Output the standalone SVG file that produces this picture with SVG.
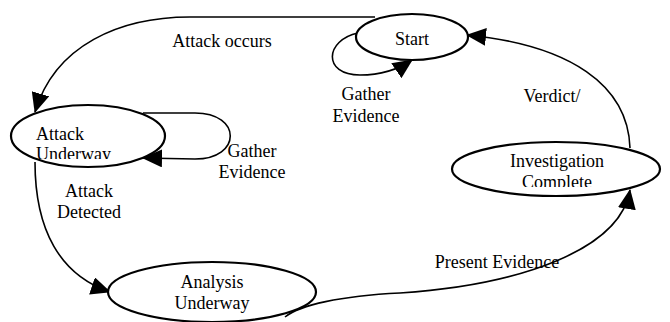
<svg xmlns="http://www.w3.org/2000/svg" width="670" height="322" viewBox="0 0 670 322">
<style>
.n{fill:#fff;stroke:#000;stroke-width:2.2}
.e{fill:none;stroke:#000;stroke-width:1.6;marker-end:url(#arr)}
text{font-family:"Liberation Serif","Times New Roman",serif;font-size:18px;fill:#000}
.c{text-anchor:middle}
</style>
<defs>
<marker id="arr" markerUnits="userSpaceOnUse" markerWidth="20" markerHeight="18" refX="19" refY="9" orient="auto" viewBox="0 0 20 18">
<path d="M0,0 L20,9 L0,18 z" fill="#000"/>
</marker>
<clipPath id="clipAU"><rect x="0" y="100" width="200" height="59"/></clipPath>
<clipPath id="clipIC"><rect x="440" y="140" width="230" height="47"/></clipPath>
</defs>
<g id="connectors">
<path class="e" d="M375,17 L190,17 C120,17 55,45 35,112"/>
<path class="e" d="M358,33 C325,40 322,75 360,75 C380,75 396,71 412,60"/>
<path class="e" d="M143,113 L195,113 C242,113 242,159 195,159 L143,158"/>
<path class="e" d="M35,162 C35,230 60,275 110,292"/>
<path class="e" d="M285,317 C300,305 340,296 400,293 C520,285 620,250 630,190"/>
<path class="e" d="M630,148 C628,85 570,45 467,35"/>
</g>
<g id="labels">
<text class="c" x="222" y="47">Attack occurs</text>
<text class="c" x="366" y="100">Gather</text>
<text class="c" x="366" y="122">Evidence</text>
<text class="c" x="252" y="157">Gather</text>
<text class="c" x="252" y="178">Evidence</text>
<text class="c" x="89" y="197">Attack</text>
<text class="c" x="89" y="218">Detected</text>
<text class="c" x="497" y="268">Present Evidence</text>
<text class="c" x="552" y="102">Verdict/</text>
</g>
<g id="start">
<ellipse class="n" cx="412" cy="37" rx="56" ry="23"/>
<text class="c" x="412" y="45">Start</text>
</g>
<g id="attack-underway">
<ellipse class="n" cx="88" cy="136" rx="77" ry="31"/>
<g clip-path="url(#clipAU)">
<text x="36" y="140">Attack</text>
<text x="36" y="160">Underway</text>
</g>
</g>
<g id="analysis-underway">
<ellipse class="n" cx="212" cy="292" rx="104" ry="30"/>
<text class="c" x="212" y="288">Analysis</text>
<text class="c" x="212" y="309">Underway</text>
</g>
<g id="investigation-complete">
<ellipse class="n" cx="556" cy="169" rx="104" ry="27"/>
<g clip-path="url(#clipIC)">
<text class="c" x="557" y="167">Investigation</text>
<text class="c" x="557" y="188">Complete</text>
</g>
</g>
</svg>
